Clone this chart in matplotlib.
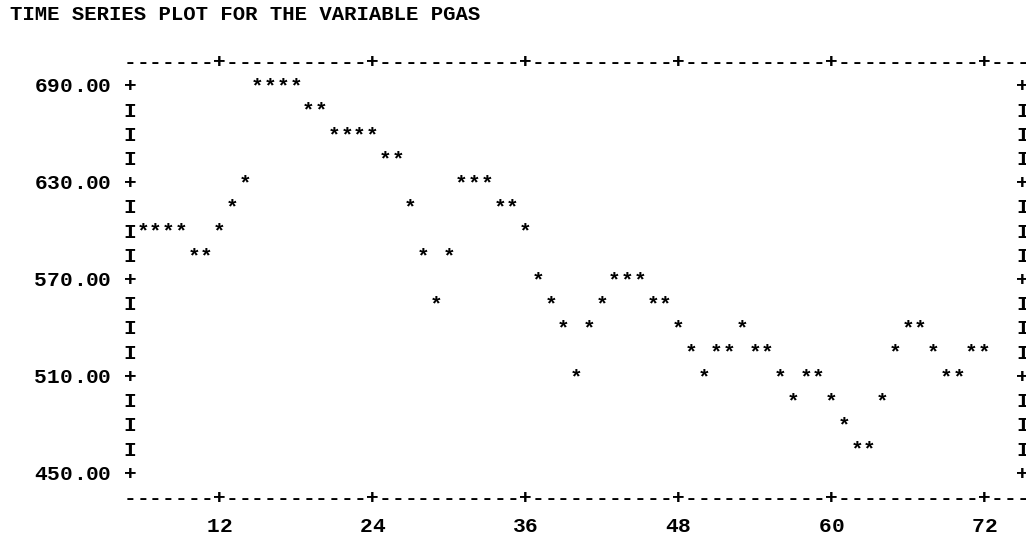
import numpy as np
import matplotlib
matplotlib.use('Agg')
import matplotlib.pyplot as plt

# Time index and PGAS values (one star per period)
periods = list(range(6, 73))
pgas = [600, 600, 600, 600, 585, 585, 600, 615, 630,
        690, 690, 690, 690, 675, 675, 660, 660, 660, 660, 645, 645,
        615, 585, 555, 585, 630, 630, 630, 615, 615, 600,
        570, 555, 540, 510, 540, 555, 570, 570, 570, 555, 555,
        540, 525, 510, 525, 525, 540, 525, 525, 510, 495, 510, 510,
        495, 480, 465, 465, 495, 525, 540, 540, 525, 510, 510, 525, 525]
assert len(periods) == len(pgas)

x_ticks = [12, 24, 36, 48, 60, 72]
y_labels = [690, 630, 570, 510, 450]
row_step = 15
title = 'TIME SERIES PLOT FOR THE VARIABLE PGAS'

# character grid layout (one column per period, one row per 15 units)
col_w = 12.75      # px per column
row_h = 24.2       # px per row
left_col, right_col = 5, 75
x_px0, y_px0 = 130, 87   # pixel position of column 5 / row 690

W, H = 1026, 536
fig = plt.figure(figsize=(W / 100, H / 100), dpi=100)
ax = fig.add_axes([0, 0, 1, 1])
ax.axis('off')
ax.set_xlim(left_col - x_px0 / col_w, left_col + (W - x_px0) / col_w)
top = max(y_labels)
ax.set_ylim(top - (H - y_px0) / row_h * row_step, top + y_px0 / row_h * row_step)

font = dict(family='Liberation Mono', weight='bold', fontsize=15.3,
            ha='center', va='center', color='black')


def put(col, val, s):
    for i, ch in enumerate(s):
        if ch != ' ':
            ax.text(col + i, val, ch, **font)


rows = np.arange(min(y_labels), max(y_labels) + 1, row_step)
for r in rows:
    ch = '+' if r in y_labels else 'I'
    put(left_col, r, ch)
    put(right_col, r, ch)
for v in y_labels:
    put(left_col - 7, v, f'{v:.2f} ')

# top and bottom border lines
line_cols = range(left_col, right_col + 3)
border = ''.join('+' if c in x_ticks else '-' for c in line_cols)
put(left_col, max(y_labels) + row_step, border)
put(left_col, min(y_labels) - row_step, border)

label_val = min(y_labels) - row_step * 2.15
for t in x_ticks:
    lab = str(t)
    put(t - (len(lab) - 1) / 2, label_val, lab)

# the data
for t, v in zip(periods, pgas):
    ax.text(t, v, '*', **font)

fig.text(10 / W, 1 - 14 / H, title, family='Liberation Mono', weight='bold',
         fontsize=14.9, ha='left', va='center')

fig.savefig('out.png', dpi=100)
